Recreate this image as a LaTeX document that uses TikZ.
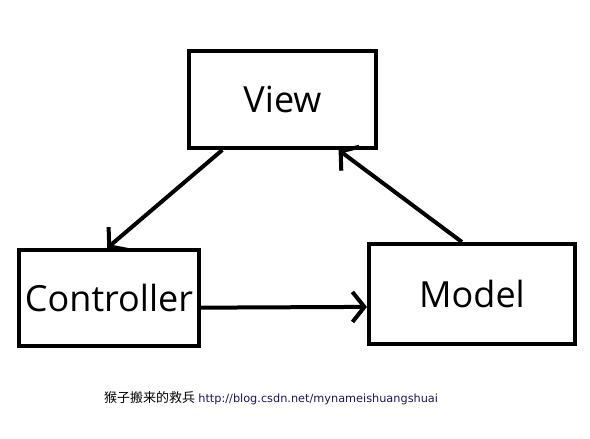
\documentclass[tikz,border=0pt]{standalone}
\usepackage{fontspec}
\setmainfont{Open Sans}
\newfontfamily\cjk{Noto Sans CJK SC}
\newfontfamily\urlfont{DejaVu Sans}
\usetikzlibrary{arrows.meta}
\definecolor{urlnavy}{RGB}{30,22,85}

\begin{document}
\begin{tikzpicture}[x=1pt,y=-1pt,->,>={Straight Barb[length=12pt,width=30pt,line width=4pt]},
	line width=4pt]
	\tikzstyle{box}=[draw,rectangle,inner sep=0pt,font=\fontsize{36}{40}\selectfont]
	\useasboundingbox (0,0) rectangle (590,439);
	
	\node[box,minimum width=187pt,minimum height=97pt]          (V) at (282.5,99.5) {View};
	\node[box,minimum width=180pt,minimum height=96pt]          (C) at (109,298) {Controller};
	\node[box,minimum width=206pt,minimum height=100pt]         (M) at (472,294) {Model};
	
	\path (V.220) edge (C.92)
	      (C.-6)  edge (M.-173)
	      (M.101) edge (V.-42);
	
	\node[font=\fontsize{13}{15}\selectfont] (note) at (271,398)
	     {{\cjk 猴子搬来的救兵} {\urlfont\fontsize{11.3}{14}\selectfont\color{urlnavy}http://blog.csdn.net/mynameishuangshuai}};
	
\end{tikzpicture}
\end{document}
